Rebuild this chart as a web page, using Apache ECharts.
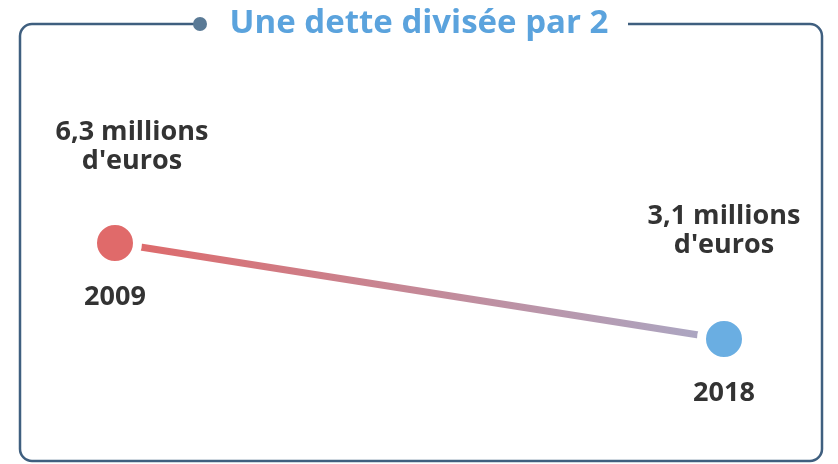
<!DOCTYPE html>
<html>
<head>
<meta charset="utf-8">
<script src="https://cdn.jsdelivr.net/npm/echarts@6/dist/echarts.min.js"></script>
<style>
  html, body { margin: 0; padding: 0; background: #fff; }
  #chart { width: 838px; height: 464px; }
</style>
</head>
<body>
<div id="chart"></div>
<script>
var years = ["2009", "2018"];
var dette = [6.3, 3.1]; // millions d'euros
var pointColors = ["#e06a6a", "#6aaee2"];

var chart = echarts.init(document.getElementById("chart"));

var frameColor = "#3f5f7f";

chart.setOption({
  backgroundColor: "#fff",
  animation: false,
  title: {
    text: "Une dette divisée par 2",
    left: "center",
    top: 2,
    textStyle: {
      fontFamily: "Open Sans",
      fontSize: 33,
      fontWeight: "bold",
      color: "#5ba3dd"
    }
  },
  graphic: [
    {
      type: "rect",
      shape: { x: 20, y: 24, width: 802, height: 437, r: 12 },
      style: { fill: "none", stroke: frameColor, lineWidth: 2.5 },
      z: 0
    },
    {
      // gap for the title
      type: "rect",
      shape: { x: 206, y: 14, width: 422, height: 20 },
      style: { fill: "#fff" },
      z: 1
    },
    {
      type: "circle",
      shape: { cx: 200, cy: 24, r: 7 },
      style: { fill: "#5a7a96" },
      z: 2
    }
  ],
  grid: { left: 115, right: 114, top: 132, bottom: 32 },
  xAxis: {
    type: "category",
    data: years,
    boundaryGap: false,
    show: false
  },
  yAxis: {
    type: "value",
    min: 0,
    max: 10,
    show: false
  },
  series: [
    {
      type: "line",
      data: dette.map(function (v, i) {
        return {
          value: v,
          itemStyle: { color: pointColors[i] },
          label: i === 0 ? { offset: [17, 0], distance: 40 } : { distance: 52 }
        };
      }),
      symbol: "circle",
      symbolSize: 45,
      itemStyle: { borderColor: "#fff", borderWidth: 9 },
      lineStyle: {
        width: 7,
        color: new echarts.graphic.LinearGradient(0, 0, 1, 0, [
          { offset: 0, color: "#e06868" },
          { offset: 1, color: "#a9a9c6" }
        ])
      },
      label: {
        show: true,
        position: "top",
        align: "center",
        fontFamily: "Open Sans",
        fontWeight: "bold",
        fontSize: 27,
        lineHeight: 29,
        color: "#333",
        formatter: function (p) {
          return String(p.value).replace(".", ",") + " millions\nd'euros";
        }
      },
      z: 3
    },
    {
      type: "scatter",
      data: dette,
      symbolSize: 1,
      itemStyle: { color: "#fff" },
      label: {
        show: true,
        position: "bottom",
        distance: 40,
        fontFamily: "Open Sans",
        fontWeight: "bold",
        fontSize: 27,
        color: "#333",
        opacity: 1,
        formatter: function (p) {
          return years[p.dataIndex];
        }
      },
      z: 1
    }
  ]
});
</script>
</body>
</html>
